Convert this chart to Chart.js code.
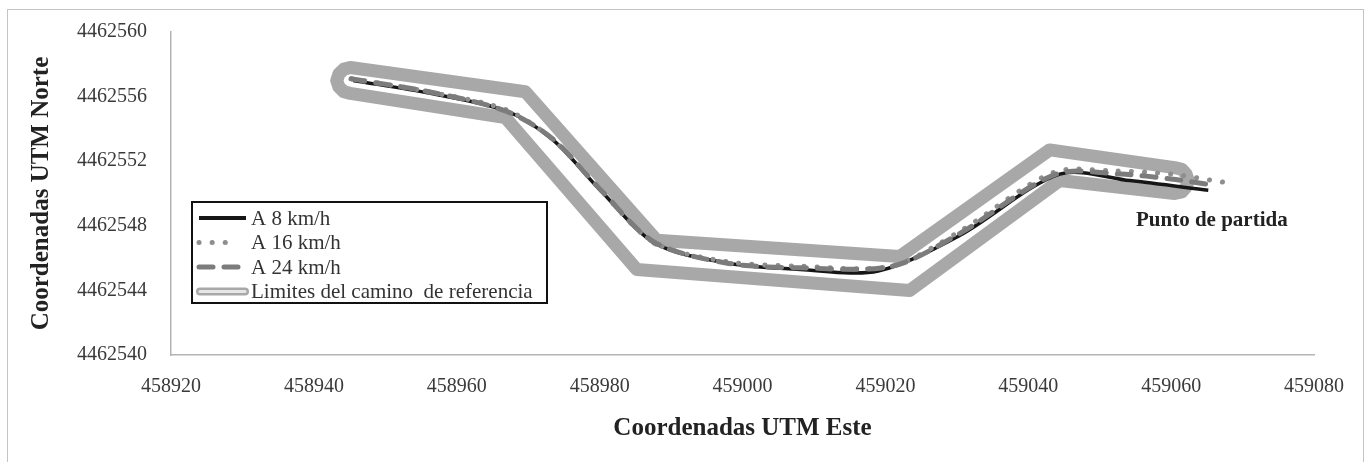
<!DOCTYPE html>
<html>
<head>
<meta charset="utf-8">
<script src="https://cdn.jsdelivr.net/npm/chart.js@4.4.1/dist/chart.umd.min.js"></script>
<style>
  body { margin: 0; background: #fff; }
  #wrap { position: relative; width: 1367px; height: 462px; }
  #frame { position: absolute; left: 7px; top: 9px; width: 1355px; height: 460px; border: 1px solid #c4c4c4; pointer-events: none; }
</style>
</head>
<body>
<div id="wrap">
  <canvas id="ruta" width="1367" height="462"></canvas>
  <div id="frame"></div>
</div>
<script>
// Trayectorias (coordenadas UTM Este / Norte)
const speed8X = [458945.5, 458956.3, 458967.0, 458973.5, 458980.1, 458987.8, 458997.8, 459008.1, 459019.0, 459030.4, 459044.4, 459054.2, 459065.2];
const speed8Y = [4462557.0, 4462556.2, 4462555.1, 4462553.3, 4462550.2, 4462546.9, 4462545.7, 4462545.3, 4462545.2, 4462547.4, 4462551.2, 4462550.8, 4462550.2];

const speed16X = [458945.3, 458956.0, 458966.8, 458973.3, 458980.0, 458987.5, 458997.5, 459008.0, 459020.8, 459030.2, 459043.5, 459052.0, 459060.0, 459067.3];
const speed16Y = [4462557.1, 4462556.3, 4462555.2, 4462553.4, 4462550.3, 4462547.0, 4462545.8, 4462545.5, 4462545.5, 4462547.6, 4462551.3, 4462551.4, 4462551.2, 4462550.7];

const speed24X = [458945.2, 458956.1, 458966.9, 458973.4, 458980.0, 458987.6, 458997.7, 459008.0, 459021.0, 459030.3, 459043.9, 459053.0, 459060.0, 459066.1];
const speed24Y = [4462557.1, 4462556.3, 4462555.1, 4462553.4, 4462550.3, 4462547.0, 4462545.7, 4462545.4, 4462545.5, 4462547.5, 4462551.2, 4462551.2, 4462550.9, 4462550.5];

// Limites del camino de referencia (contorno cerrado, extremos redondeados)
const limitX = [458945.1, 458969.6, 458988.0, 459022.0, 459043.0, 459060.5, 459061.5, 459062.1, 459062.4, 459062.1, 459061.5, 459060.5,
  459044.4, 459023.4, 458985.2, 458966.8, 458945.1, 458944.2, 458943.5, 458943.2, 458943.5, 458944.2, 458945.1];
const limitY = [4462557.8, 4462556.3, 4462547.1, 4462546.1, 4462552.7, 4462551.6, 4462551.5, 4462551.2, 4462550.8, 4462550.4, 4462550.1, 4462550.0,
  4462550.8, 4462544.0, 4462545.3, 4462554.7, 4462556.2, 4462556.3, 4462556.6, 4462557.0, 4462557.4, 4462557.7, 4462557.8];

const xTicks = [458920, 458940, 458960, 458980, 459000, 459020, 459040, 459060, 459080];
const yTicks = [4462540, 4462544, 4462548, 4462552, 4462556, 4462560];

const seriesNames = ['A 8 km/h', 'A 16 km/h', 'A 24 km/h', 'Limites del camino  de referencia'];
const startLabel = 'Punto de partida';
const startAnchor = [459065.7, 4462548.3];

const toPoints = (xs, ys) => xs.map((x, i) => ({ x: x, y: ys[i] }));
const serif = 'Liberation Serif, "Times New Roman", serif';

// leyenda con recuadro, dentro del area del grafico
const boxLegend = {
  id: 'boxLegend',
  afterDraw(chart) {
    const ctx = chart.ctx;
    const area = chart.chartArea;
    const left = area.left + 21, top = area.top + 170;
    const w = 355, h = 101;
    ctx.save();
    ctx.fillStyle = '#fff';
    ctx.fillRect(left, top, w, h);
    ctx.strokeStyle = '#111';
    ctx.lineWidth = 2;
    ctx.strokeRect(left, top, w, h);
    ctx.font = '21px ' + serif;
    ctx.textBaseline = 'middle';
    ctx.fillStyle = '#333';
    seriesNames.forEach((name, i) => {
      const ds = chart.data.datasets[i];
      const y = top + 16 + i * 24.5;
      ctx.save();
      ctx.lineCap = ds.borderCapStyle || 'butt';
      ctx.setLineDash(ds.borderDash || []);
      if (i === 3) {
        ctx.lineCap = 'round';
        ctx.strokeStyle = ds.borderColor;
        ctx.lineWidth = 8;
        ctx.beginPath(); ctx.moveTo(left + 8, y); ctx.lineTo(left + 53, y); ctx.stroke();
        ctx.strokeStyle = '#e6e6e6';
        ctx.lineWidth = 3;
        ctx.beginPath(); ctx.moveTo(left + 8, y); ctx.lineTo(left + 53, y); ctx.stroke();
      } else {
        ctx.strokeStyle = ds.borderColor;
        ctx.lineWidth = i === 0 ? 4 : 5;
        const end = i === 1 ? left + 36 : left + 54;
        ctx.beginPath(); ctx.moveTo(left + 7, y); ctx.lineTo(end, y); ctx.stroke();
      }
      ctx.restore();
      ctx.fillText(name, left + 59, y + 1);
    });
    // etiqueta del punto de partida
    const px = chart.scales.x.getPixelForValue(startAnchor[0]);
    const py = chart.scales.y.getPixelForValue(startAnchor[1]);
    ctx.font = 'bold 21px ' + serif;
    ctx.textAlign = 'center';
    ctx.fillStyle = '#222';
    ctx.fillText(startLabel, px, py);
    ctx.restore();
  }
};

const ruta = new Chart(document.getElementById('ruta').getContext('2d'), {
  type: 'scatter',
  data: {
    datasets: [{
      label: seriesNames[0],
      data: toPoints(speed8X, speed8Y),
      showLine: true,
      borderColor: '#161616',
      borderWidth: 3.5,
      pointRadius: 0,
      tension: 0.3,
      order: 3
    },
    {
      label: seriesNames[1],
      data: toPoints(speed16X, speed16Y),
      showLine: true,
      borderColor: '#8e8e8e',
      borderWidth: 5,
      borderDash: [0.1, 13],
      borderCapStyle: 'round',
      pointRadius: 0,
      tension: 0.3,
      order: 2
    },
    {
      label: seriesNames[2],
      data: toPoints(speed24X, speed24Y),
      showLine: true,
      borderColor: '#7c7c7c',
      borderWidth: 5,
      borderDash: [14, 11],
      borderCapStyle: 'round',
      pointRadius: 0,
      tension: 0.3,
      order: 1
    },
    {
      label: seriesNames[3],
      data: toPoints(limitX, limitY),
      showLine: true,
      borderColor: '#a8a8a8',
      borderWidth: 13,
      borderJoinStyle: 'round',
      borderCapStyle: 'round',
      pointRadius: 0,
      order: 4
    }]
  },
  options: {
    responsive: false,
    animation: false,
    layout: { padding: { top: 32, right: 53, left: 0, bottom: 0 } },
    plugins: {
      legend: { display: false },
      tooltip: { enabled: false }
    },
    scales: {
      x: {
        type: 'linear',
        min: xTicks[0],
        max: xTicks[xTicks.length - 1],
        afterBuildTicks: s => { s.ticks = xTicks.map(v => ({ value: v })); },
        afterFit: s => { s.height = 107; s.paddingLeft = 0; s.paddingRight = 0; },
        grid: { display: false, drawTicks: false },
        border: { display: true, color: '#b4b4b4', width: 1.5 },
        ticks: {
          padding: 20,
          maxRotation: 0,
          color: '#3a3a3a',
          font: { family: serif, size: 20 },
          callback: v => String(v)
        },
        title: {
          display: true,
          text: 'Coordenadas UTM Este',
          color: '#222',
          font: { family: serif, size: 25, weight: 'bold' },
          padding: { top: 0, bottom: 18 }
        }
      },
      y: {
        type: 'linear',
        min: yTicks[0],
        max: yTicks[yTicks.length - 1],
        afterBuildTicks: s => { s.ticks = yTicks.map(v => ({ value: v })); },
        afterFit: s => { s.width = 171; s.paddingTop = 0; s.paddingBottom = 0; },
        grid: { display: false, drawTicks: false },
        border: { display: true, color: '#b4b4b4', width: 1.5 },
        ticks: {
          padding: 24,
          color: '#3a3a3a',
          font: { family: serif, size: 20 },
          callback: v => String(v)
        },
        title: {
          display: true,
          text: 'Coordenadas UTM Norte',
          color: '#222',
          font: { family: serif, size: 25, weight: 'bold' },
          padding: { top: 27, bottom: 0 }
        }
      }
    }
  },
  plugins: [boxLegend]
});
</script>
</body>
</html>
